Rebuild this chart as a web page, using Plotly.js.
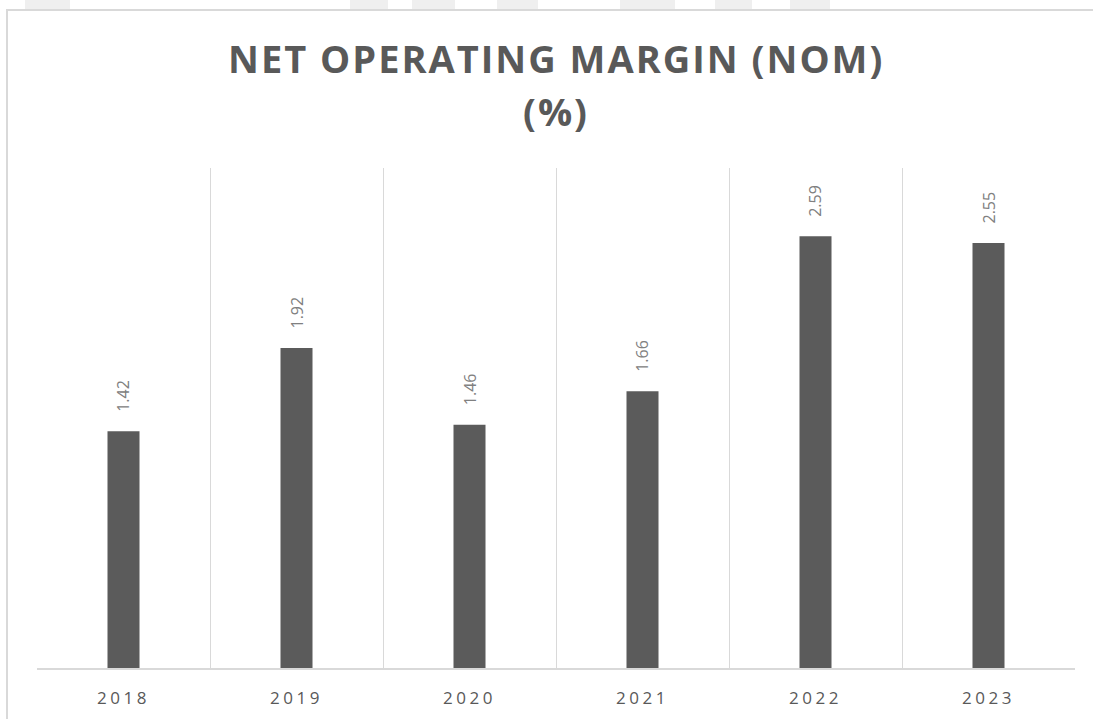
<!DOCTYPE html>
<html>
<head>
<meta charset="utf-8">
<script src="https://cdn.plot.ly/plotly-3.0.1.min.js"></script>
<style>
html,body{margin:0;padding:0;background:#fff;}
#chart{width:1093px;height:719px;}
.xtick text{letter-spacing:3.5px;}
</style>
</head>
<body>
<div id="chart"></div>
<script>
const years = ['2018','2019','2020','2021','2022','2023'];
const nomValues = [1.42, 1.92, 1.46, 1.66, 2.59, 2.55];
const titleLine1 = 'NET OPERATING MARGIN (NOM)';
const titleLine2 = '(%)';

const trace = {
  type: 'bar',
  x: years,
  y: nomValues,
  marker: {color: '#5b5b5b'},
  width: 0.185,
  hoverinfo: 'x+y'
};

const labelAnnotations = years.map((yr, i) => ({
  x: i, y: nomValues[i], xref: 'x', yref: 'y',
  text: nomValues[i].toFixed(2),
  textangle: -90,
  showarrow: false,
  xanchor: 'center', yanchor: 'bottom',
  yshift: 17,
  font: {family: 'Open Sans, sans-serif', size: 16, color: '#808080'}
}));

const titleAnnotations = [
  {text: '<b>' + titleLine1 + '</b>', x: 0.5, y: 1.22, xref: 'paper', yref: 'paper',
   xanchor: 'center', yanchor: 'middle', showarrow: false,
   font: {family: 'Open Sans, sans-serif', size: 38, color: '#595959'}},
  {text: '<b>' + titleLine2 + '</b>', x: 0.5, y: 1.114, xref: 'paper', yref: 'paper',
   xanchor: 'center', yanchor: 'middle', showarrow: false,
   font: {family: 'Open Sans, sans-serif', size: 38, color: '#595959'}}
];

// faint background marks above the chart frame (page watermark)
const topY0 = 1.316, topY1 = 1.34;
const wm = [[25,70],[350,388],[412,455],[497,538],[620,675],[715,752],[790,830]].map(([a,b]) => ({
  type: 'rect', xref: 'paper', yref: 'paper',
  x0: (a-37)/1038, x1: (b-37)/1038, y0: topY0, y1: topY1,
  line: {width: 0}, fillcolor: '#efefef', layer: 'below'
}));

const layout = {
  width: 1093, height: 719,
  margin: {l: 37, r: 18, t: 168, b: 51, pad: 0},
  paper_bgcolor: '#ffffff',
  plot_bgcolor: '#ffffff',
  showlegend: false,
  xaxis: {
    type: 'category',
    tickson: 'boundaries',
    ticks: '',
    showgrid: true,
    gridcolor: '#d9d9d9',
    gridwidth: 1,
    showline: true,
    linecolor: '#d9d9d9',
    linewidth: 1.5,
    tickangle: 0,
    tickfont: {family: 'Open Sans, sans-serif', size: 17, color: '#595959'},
    ticklabelstandoff: 14,
    fixedrange: true
  },
  yaxis: {
    range: [0, 3],
    showgrid: false,
    zeroline: false,
    showticklabels: false,
    ticks: '',
    fixedrange: true
  },
  annotations: titleAnnotations.concat(labelAnnotations),
  shapes: wm.concat([
    {type: 'rect', xref: 'paper', yref: 'paper', x0: -0.0289, x1: 1.2, y0: -0.3, y1: 1.316,
     line: {color: '#d9d9d9', width: 2}, fillcolor: 'rgba(0,0,0,0)', layer: 'below'}
  ])
};

Plotly.newPlot('chart', [trace], layout, {displayModeBar: false, staticPlot: true}).then(() => {
  document.querySelectorAll('.annotation-text').forEach((t, i) => {
    if (i < 2) t.setAttribute('style', (t.getAttribute('style') || '') + ';letter-spacing:2px;');
  });
});
</script>
</body>
</html>
